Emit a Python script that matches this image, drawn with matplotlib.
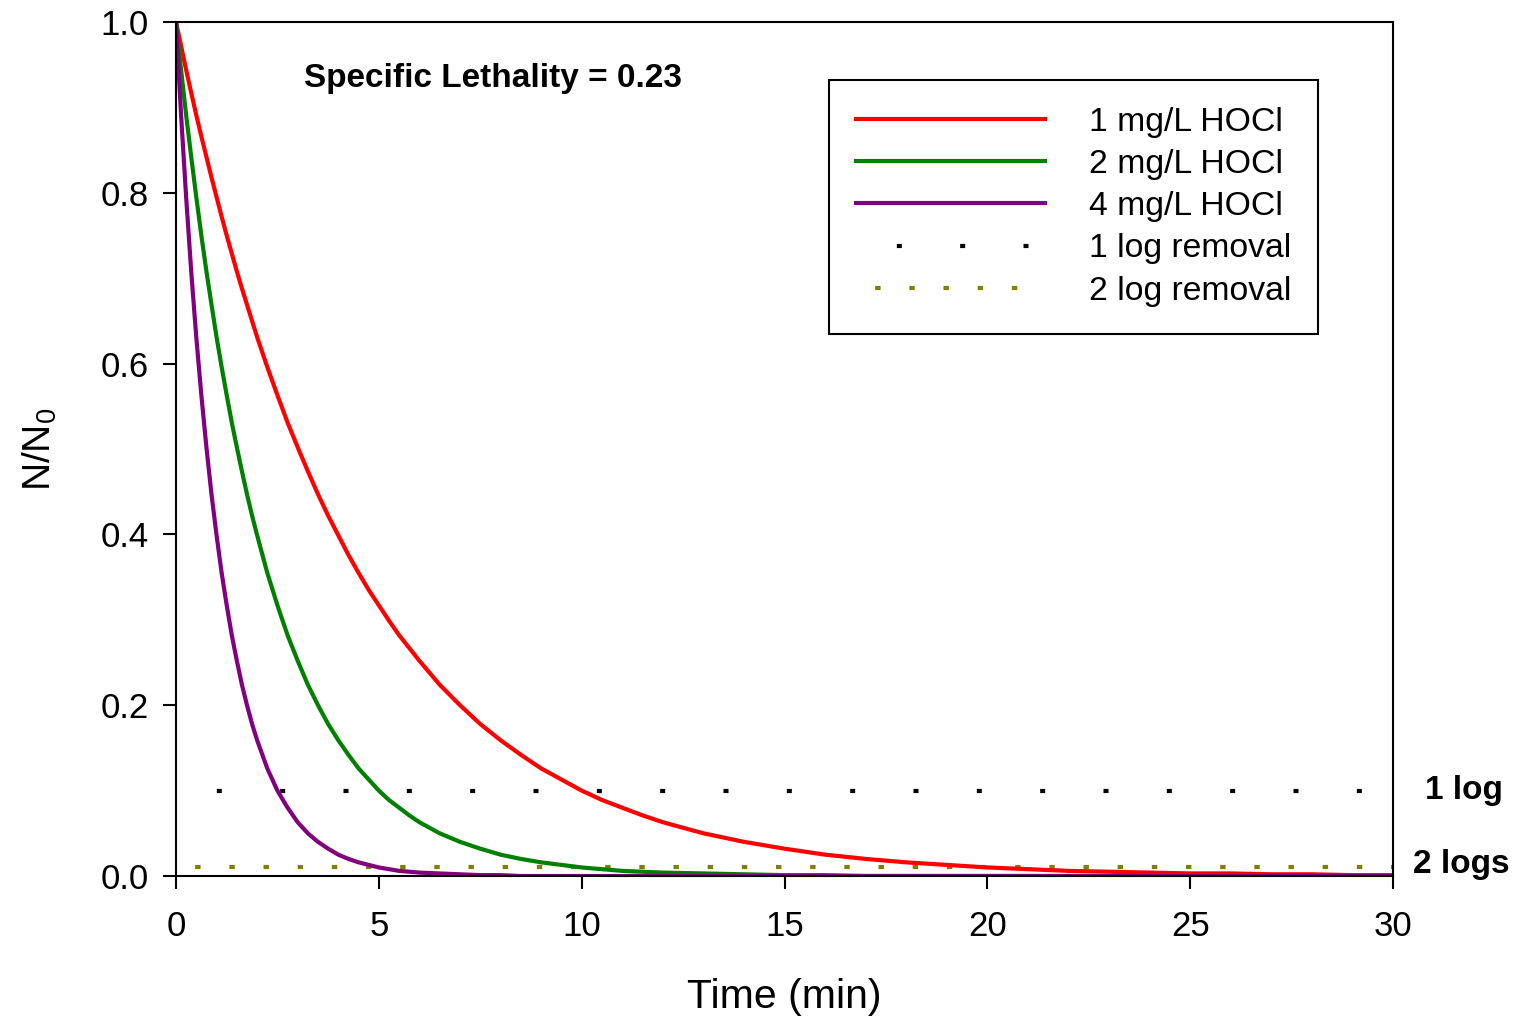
import matplotlib.pyplot as plt

plt.rcParams['font.family'] = ['Liberation Sans', 'DejaVu Sans']
plt.rcParams['mathtext.fontset'] = 'custom'
plt.rcParams['mathtext.rm'] = 'Liberation Sans'
plt.rcParams['mathtext.it'] = 'Liberation Sans:italic'

# Survival ratio N/N0 (time in min)
time = [0, 0.125, 0.25, 0.375, 0.5, 0.625, 0.75, 0.875, 1, 1.125, 1.25, 1.375, 1.5,
        1.625, 1.75, 1.875, 2,
        2.25, 2.5, 2.75, 3, 3.25, 3.5, 3.75, 4, 4.25, 4.5, 4.75, 5, 5.25, 5.5, 5.75, 6,
        6.5, 7, 7.5, 8, 8.5, 9, 9.5, 10, 10.5, 11, 11.5, 12,
        13, 14, 15, 16, 17, 18, 19, 20, 21, 22, 23, 24, 25, 26, 27, 28, 29, 30]
hocl_1 = [1.000, 0.972, 0.944, 0.917, 0.891, 0.866, 0.842, 0.818, 0.795, 0.772, 0.750,
          0.729, 0.708, 0.688, 0.669, 0.650, 0.631,
          0.596, 0.563, 0.531, 0.502, 0.474, 0.447, 0.422, 0.399, 0.376, 0.355, 0.335,
          0.317, 0.299, 0.282, 0.267, 0.252,
          0.224, 0.200, 0.178, 0.159, 0.142, 0.126, 0.113, 0.100, 0.089, 0.080, 0.071, 0.063,
          0.050, 0.040, 0.032, 0.025, 0.020, 0.016, 0.013, 0.010, 0.008, 0.006, 0.005,
          0.004, 0.003, 0.003, 0.002, 0.002, 0.001, 0.001]
hocl_2 = [1.000, 0.944, 0.891, 0.842, 0.795, 0.750, 0.708, 0.669, 0.631, 0.596, 0.563,
          0.531, 0.502, 0.474, 0.447, 0.422, 0.399,
          0.355, 0.317, 0.282, 0.252, 0.224, 0.200, 0.178, 0.159, 0.142, 0.126, 0.113,
          0.100, 0.089, 0.080, 0.071, 0.063,
          0.050, 0.040, 0.032, 0.025, 0.020, 0.016, 0.013, 0.010, 0.008, 0.006, 0.005, 0.004,
          0.003, 0.002, 0.001, 0.001, 0.000, 0.000, 0.000, 0.000, 0.000, 0.000, 0.000,
          0.000, 0.000, 0.000, 0.000, 0.000, 0.000, 0.000]
hocl_4 = [1.000, 0.891, 0.795, 0.708, 0.631, 0.563, 0.502, 0.447, 0.399, 0.355, 0.317,
          0.282, 0.252, 0.224, 0.200, 0.178, 0.159,
          0.126, 0.100, 0.080, 0.063, 0.050, 0.040, 0.032, 0.025, 0.020, 0.016, 0.013,
          0.010, 0.008, 0.006, 0.005, 0.004,
          0.003, 0.002, 0.001, 0.001, 0.000, 0.000, 0.000, 0.000, 0.000, 0.000, 0.000, 0.000,
          0.000, 0.000, 0.000, 0.000, 0.000, 0.000, 0.000, 0.000, 0.000, 0.000, 0.000,
          0.000, 0.000, 0.000, 0.000, 0.000, 0.000, 0.000]

ref_x = [0, 30]
one_log = [0.1, 0.1]
two_log = [0.01, 0.01]

labels = ['1 mg/L HOCl', '2 mg/L HOCl', '4 mg/L HOCl', '1 log removal', '2 log removal']

fig = plt.figure(figsize=(15.13, 10.16), dpi=100)
ax = fig.add_axes([176 / 1513, 1 - 876 / 1016, (1393 - 176) / 1513, (876 - 22) / 1016])

# reference lines first so the curves sit on top
l4, = ax.plot(ref_x, one_log, color='black', lw=3, linestyle=(5.4, (1.2, 14.0)))
l5, = ax.plot(ref_x, two_log, color='#808000', lw=3, linestyle=(3.6, (1.3, 6.9)))

l1, = ax.plot(time, hocl_1, color='#ff0000', lw=3)
l2, = ax.plot(time, hocl_2, color='#008000', lw=3)
l3, = ax.plot(time, hocl_4, color='#800080', lw=3)

ax.set_xlim(0, 30)
ax.set_ylim(0, 1)
ax.set_xticks(range(0, 31, 5))
ax.set_yticks([0, 0.2, 0.4, 0.6, 0.8, 1.0])
ax.set_yticklabels(['0.0', '0.2', '0.4', '0.6', '0.8', '1.0'])
ax.tick_params(direction='out', length=9.5, width=1.5, labelsize=25,
               top=False, right=False)
ax.tick_params(axis='x', pad=15)
ax.tick_params(axis='y', pad=10)
for s in ax.spines.values():
    s.set_linewidth(1.5)

ax.set_xlabel('Time (min)', fontsize=29.5, labelpad=25)
ax.set_ylabel('N/N$_0$', fontsize=28, labelpad=30)

leg = ax.legend([l1, l2, l3, l4, l5], labels, loc='upper left',
                bbox_to_anchor=(829 / 1513, 1 - 80 / 1016), bbox_transform=fig.transFigure,
                borderaxespad=0, fontsize=24.3, handlelength=5.6, handletextpad=1.3,
                borderpad=0.8, labelspacing=0.33, fancybox=False, framealpha=1)
leg.get_frame().set_edgecolor('black')
leg.get_frame().set_linewidth(1.5)

fig.text(304 / 1513, 1 - 78 / 1016, 'Specific Lethality = 0.23', fontsize=24,
         fontweight='bold', ha='left', va='center')

ax.text(30.8, 0.1, '1 log', fontsize=24, fontweight='bold', ha='left', va='center',
        clip_on=False)
ax.text(30.5, 0.014, '2 logs', fontsize=24, fontweight='bold', ha='left', va='center',
        clip_on=False)

fig.savefig('out.png', dpi=100)
